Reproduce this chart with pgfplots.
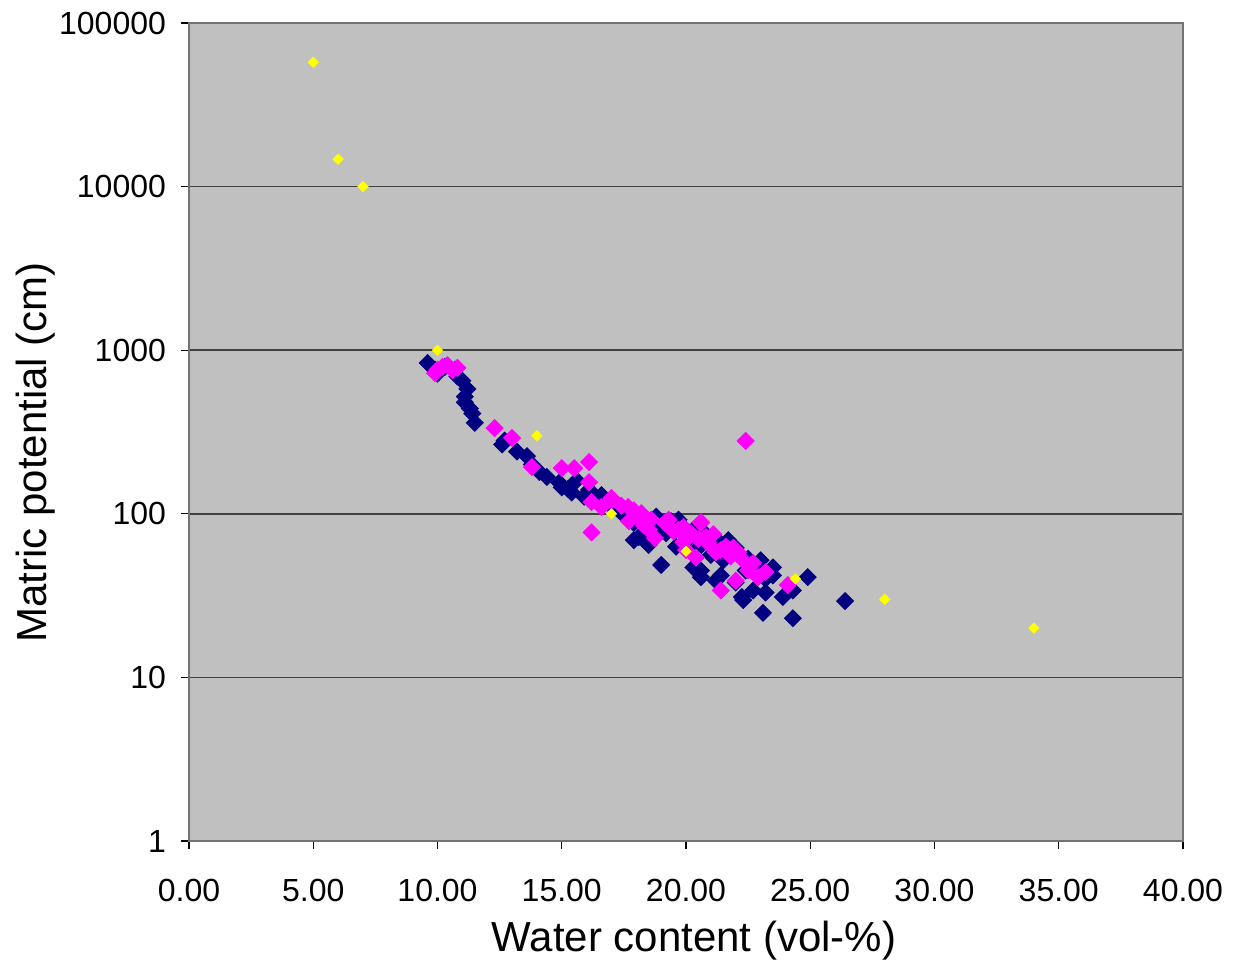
\documentclass[border=0pt]{standalone}
\usepackage{fontspec}
\setmainfont{Liberation Sans}
\usepackage{pgfplots}
\pgfplotsset{compat=1.18}

\definecolor{plotbg}{RGB}{192,192,192}
\definecolor{navyser}{RGB}{0,0,128}
\definecolor{pinkser}{RGB}{255,0,255}
\definecolor{yelser}{RGB}{255,255,0}

\begin{document}
\begin{tikzpicture}
% page frame: 1234 x 963 px at 0.5pt per px
\useasboundingbox (-94.5pt,-61pt) rectangle (522.5pt,420.5pt);
\begin{axis}[
    scale only axis,
    width=497pt, height=409pt,
    at={(0,0)}, anchor=south west,
    xmin=0, xmax=40,
    ymode=log, ymin=1, ymax=100000,
    xtick={0,5,10,15,20,25,30,35,40},
    xticklabels={0.00,5.00,10.00,15.00,20.00,25.00,30.00,35.00,40.00},
    ytick={1,10,100,1000,10000,100000},
    yticklabels={1,10,100,1000,10000,100000},
    minor ytick={}, log basis y=10,
    ymajorgrids,
    grid style={black!75, line width=0.75pt},
    axis background/.style={fill=plotbg},
    axis line style={draw=black!55, line width=0.75pt},
    tick align=outside,
    major tick length=4pt,
    tick style={black, line width=0.6pt},
    xtick pos=bottom, ytick pos=left,
    ticklabel style={font=\fontsize{16}{19}\selectfont},
    xticklabel style={yshift=-11.5pt},
    yticklabel style={xshift=-4pt},
    xlabel={Water content (vol-\%)},
    ylabel={Matric potential (cm)},
    label style={font=\fontsize{21}{25}\selectfont},
    xlabel style={yshift=-3pt, xshift=4pt},
    ylabel style={at={(ticklabel cs:0.475)}, yshift=-5pt},
    clip=false,
]
\addplot[only marks, mark=square*, mark size=3pt, color=navyser,
    mark options={rotate=45}] coordinates {
    (9.6,835) (9.9,760) (10.0,720) (10.3,790) (10.7,760) (10.8,690)
    (11.0,650) (11.2,580) (11.1,520) (11.1,480) (11.3,440) (11.4,410)
    (11.5,360) (12.6,265) (12.7,280) (13.2,240) (13.6,225) (13.8,200)
    (14.1,180) (14.4,168) (14.9,155) (15.0,145) (15.25,142) (15.6,160)
    (15.4,135) (15.9,127) (16.1,140) (16.5,122) (16.6,130) (16.9,115)
    (17.3,105) (17.5,98) (17.9,88) (17.9,69) (18.1,72) (18.3,95)
    (18.5,64.5) (18.8,96) (18.9,85) (19.0,48.7) (19.2,76) (19.4,90)
    (19.6,63) (19.7,92) (19.8,82) (20.1,70) (20.3,47) (20.3,80)
    (20.5,62) (20.6,41) (20.6,45) (20.8,75) (21.0,56) (21.2,39)
    (21.3,68) (21.5,52) (21.7,69) (21.9,58) (22.0,62) (22.25,31)
    (22.3,29.7) (22.4,45) (22.5,53) (22.7,34) (22.9,48) (23.0,52)
    (23.1,24.8) (23.2,33) (23.2,40) (23.5,47) (23.5,42) (23.9,31)
    (24.3,34) (24.3,23) (24.9,41) (26.4,29.3) (21.0,72) (21.4,42)
    (22.0,38)
};
\addplot[only marks, mark=square*, mark size=3pt, color=pinkser,
    mark options={rotate=45}] coordinates {
    (10.0,760) (10.2,790) (10.4,810) (10.6,757) (10.8,780) (9.9,725)
    (12.3,334) (13.0,291) (13.8,193) (15.0,190) (15.5,190) (16.1,207)
    (16.1,156) (16.2,118) (16.2,77) (16.6,110) (17.0,125) (17.0,121)
    (17.4,112) (17.67,110) (17.9,105) (18.2,101) (18.5,80) (18.75,71)
    (19.15,88) (19.3,92) (19.7,80) (20.0,60) (20.2,76) (20.4,54)
    (20.6,88) (20.5,70) (20.9,66) (21.1,75) (21.4,60) (21.4,34)
    (21.6,63) (22.0,39) (22.1,58) (22.4,279) (22.3,52) (22.7,50)
    (22.9,41) (23.2,44) (24.1,36.7) (21.8,55) (19.9,67) (18.0,98)
    (17.7,90) (18.3,85) (21.2,58) (22.5,45) (20.6,89) (19.9,83)
    (19.5,78) (20.8,72) (21.9,62) (18.6,92)
};
\addplot[only marks, mark=square*, mark size=1.8pt, color=yelser,
    mark options={rotate=45}] coordinates {
    (5,57500) (6,14700) (7,10000) (10,1000) (14,300) (17,100)
    (20,59) (24.4,40) (28,30) (34,20)
};
\end{axis}
\end{tikzpicture}
\end{document}
